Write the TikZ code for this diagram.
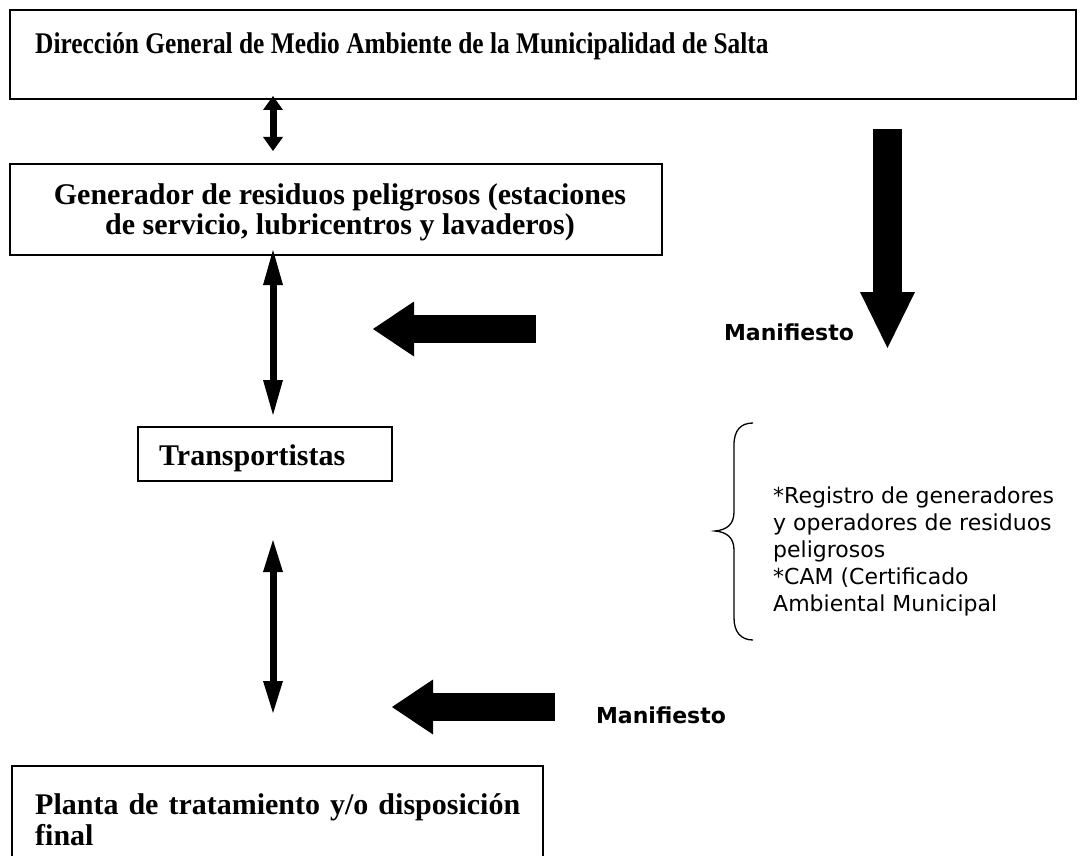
\documentclass[tikz,border=0pt]{standalone}
\usepackage{fontspec}
\usepackage{graphicx}
\setmainfont{Liberation Serif}
\newfontfamily\sansf{DejaVu Sans}
\usetikzlibrary{arrows.meta}
\begin{document}
\begin{tikzpicture}[x=1pt,y=-1pt,
  boxstyle/.style={draw, line width=1.3pt, inner sep=0pt, outer sep=0pt, anchor=north west},
  serifbold/.style={font=\fontsize{30}{31}\selectfont\bfseries, inner sep=0pt},
  mlabel/.style={font=\sansf\fontsize{22}{27}\selectfont\bfseries, inner sep=0pt},
  regtext/.style={font=\sansf\fontsize{22}{27}\selectfont, inner sep=0pt, align=left, anchor=north west},
  dblconn/.style={line width=7pt, {Triangle[width=20pt,length=#1,line width=0pt]}-{Triangle[width=20pt,length=#1,line width=0pt]}},
  blockarrow/.style={line width=28pt, -{Triangle[width=55pt,length=#1,line width=0pt]}}]
\useasboundingbox (0,0) rectangle (1080,856);
\clip (0,0) rectangle (1080,856);

% boxes
\node[boxstyle, minimum width=1066pt, minimum height=89pt] (dir) at (10,10) {};
\node[serifbold, anchor=base west] (dirtext) at (35,54) {\scalebox{0.846}[1]{Dirección General de Medio Ambiente de la Municipalidad de Salta}};

\node[boxstyle, minimum width=652pt, minimum height=91pt] (gen) at (10,164) {};
\node[serifbold, align=center, anchor=base] (gentext) at (340,235)
  {Generador de residuos peligrosos (estaciones\\de servicio, lubricentros y lavaderos)};

\node[boxstyle, minimum width=254pt, minimum height=54pt] (trans) at (138,427) {};
\node[serifbold, anchor=base west] (transtext) at (159,465) {Transportistas};

\node[boxstyle, minimum width=531pt, minimum height=130pt] (planta) at (12,766) {};
\node[serifbold, anchor=base west] (plantaA) at (35,814) {\makebox[485pt][s]{Planta de tratamiento y/o disposición}};
\node[serifbold, anchor=base west] (plantaB) at (35,845) {final};

% double arrows
\coordinate (a1t) at (273,96);
\coordinate (a1b) at (273,151);
\draw[dblconn=14pt] (a1t) -- (a1b);
\coordinate (a2t) at (273,250);
\coordinate (a2b) at (273,415);
\draw[dblconn=35pt] (a2t) -- (a2b);
\coordinate (a3t) at (273,540);
\coordinate (a3b) at (273,713);
\draw[dblconn=32pt] (a3t) -- (a3b);

% block arrows
\coordinate (m1s) at (536,329);
\coordinate (m1e) at (373,329);
\draw[blockarrow=41pt] (m1s) -- (m1e);
\coordinate (m2s) at (555,707);
\coordinate (m2e) at (392,707);
\draw[blockarrow=41pt] (m2s) -- (m2e);
\coordinate (ds) at (887.5,129);
\coordinate (de) at (887.5,348);
\draw[blockarrow=56pt, line width=29pt] (ds) -- (de);

% labels
\node[mlabel, anchor=base] (man1) at (789,340) {Manifiesto};
\node[mlabel, anchor=base] (man2) at (661,723) {Manifiesto};

% brace
\draw[line width=1.3pt] (753,423) .. controls (741,423) and (734,430) .. (734,445)
  -- (734,512) .. controls (734,524) and (727,530) .. (715,531)
  .. controls (727,532) and (734,538) .. (734,550)
  -- (734,618) .. controls (734,632) and (741,640) .. (753,640);

\node[regtext] (reg) at (773,487) {*Registro de generadores\\y operadores de residuos\\peligrosos\\*CAM (Certificado\\Ambiental Municipal};
\end{tikzpicture}
\end{document}
